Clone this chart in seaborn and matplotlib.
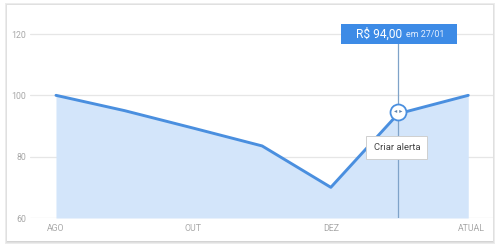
import matplotlib
matplotlib.use("Agg")
import matplotlib.pyplot as plt
import seaborn as sns
import pandas as pd
from matplotlib.patches import Rectangle

# ---- data ----
month_pos = [0, 1, 2, 3, 4, 4.98, 6.0]
prices = [100, 95, 89.3, 83.5, 70, 94, 100]
tick_pos = [0, 2, 4, 6.05]
tick_labels = ["AGO", "OUT", "DEZ", "ATUAL"]
y_ticks = [60, 80, 100, 120]
hover_x = 4.98
hover_price = 94
hover_label = "R$ 94,00"
hover_date = "em 27/01"
alert_label = "Criar alerta"

sns.set_theme(style="white")
plt.rcParams['font.family'] = ['Roboto', 'DejaVu Sans']

fig = plt.figure(figsize=(5.0, 2.48), dpi=100)
W, H = 500, 248


def fx(px):
    return px / W


def fy(py):
    return 1 - py / H


# card with soft shadow
for off, col in [(3, "#ececec"), (2, "#e0e0e0"), (1, "#d4d4d4")]:
    fig.patches.append(Rectangle((fx(7 - off + 1), fy(241 + off)), fx(486 + 2 * off - 2),
                                 (236 + 2 * off - 1) / H, transform=fig.transFigure,
                                 facecolor=col, edgecolor="none", zorder=0))
fig.patches.append(Rectangle((fx(7), fy(241)), fx(486), 236 / H, transform=fig.transFigure,
                             facecolor="white", edgecolor="none", zorder=1))

ax = fig.add_axes([30 / W, 30 / H, 463 / W, (218 - 15.6) / H])
ax.set_facecolor("none")
ax.set_zorder(5)

df = pd.DataFrame({"x": month_pos, "price": prices})
line_color = "#4a8fdf"
ax.fill_between(df["x"], 60, df["price"], color="#d3e5fa", linewidth=0, zorder=1)
sns.lineplot(data=df, x="x", y="price", ax=ax, color=line_color, linewidth=2.1,
             zorder=3)

ax.set_xlim(-0.378, 6.36)
ax.set_ylim(60, 126)
ax.set_yticks(y_ticks)
ax.set_yticklabels([str(v) for v in y_ticks])
ax.set_xticks(tick_pos)
ax.set_xticklabels(tick_labels)
ax.tick_params(axis="both", length=0, labelsize=6.3, colors="#a8a8a8")
ax.tick_params(axis="x", pad=4)
ax.tick_params(axis="y", pad=3)
ax.set_xlabel("")
ax.set_ylabel("")
for s in ax.spines.values():
    s.set_visible(False)
for v in y_ticks:
    ax.axhline(v, color="#e6e6e6", linewidth=0.9, zorder=0)

# hover vertical line
ax.plot([hover_x, hover_x], [60, 120], color="#7fa3c9", linewidth=0.9, zorder=2)

# hover marker
ax.plot([hover_x], [hover_price + 0.7], marker="o", markersize=11.5, markerfacecolor="white",
        markeredgecolor=line_color, markeredgewidth=1.3, zorder=5)
ax.text(hover_x, hover_price + 0.7, "◂ ▸", ha="center", va="center", fontsize=4.6,
        color="#5f83ad", zorder=6, family=["DejaVu Sans"])

# tooltip box (pixel placement)
ax.add_patch(Rectangle((fx(341), fy(44)), fx(116), 20 / H, transform=fig.transFigure,
                       facecolor="#3d8be6", edgecolor="none", zorder=7, clip_on=False))
fig.text(fx(356), fy(34.5), hover_label, ha="left", va="center", fontsize=8.6,
         color="white", zorder=10)
fig.text(fx(406), fy(34.5), hover_date, ha="left", va="center", fontsize=6.4,
         color="#e4efff", zorder=10)

# alert box
ax.text(4.96, 82.9, alert_label, ha="center", va="center", fontsize=6.8, color="#444444",
        zorder=8,
        bbox=dict(boxstyle="square,pad=0.75", facecolor="white", edgecolor="#cfcfcf",
                  linewidth=0.7))

fig.savefig("out.png", dpi=100)
